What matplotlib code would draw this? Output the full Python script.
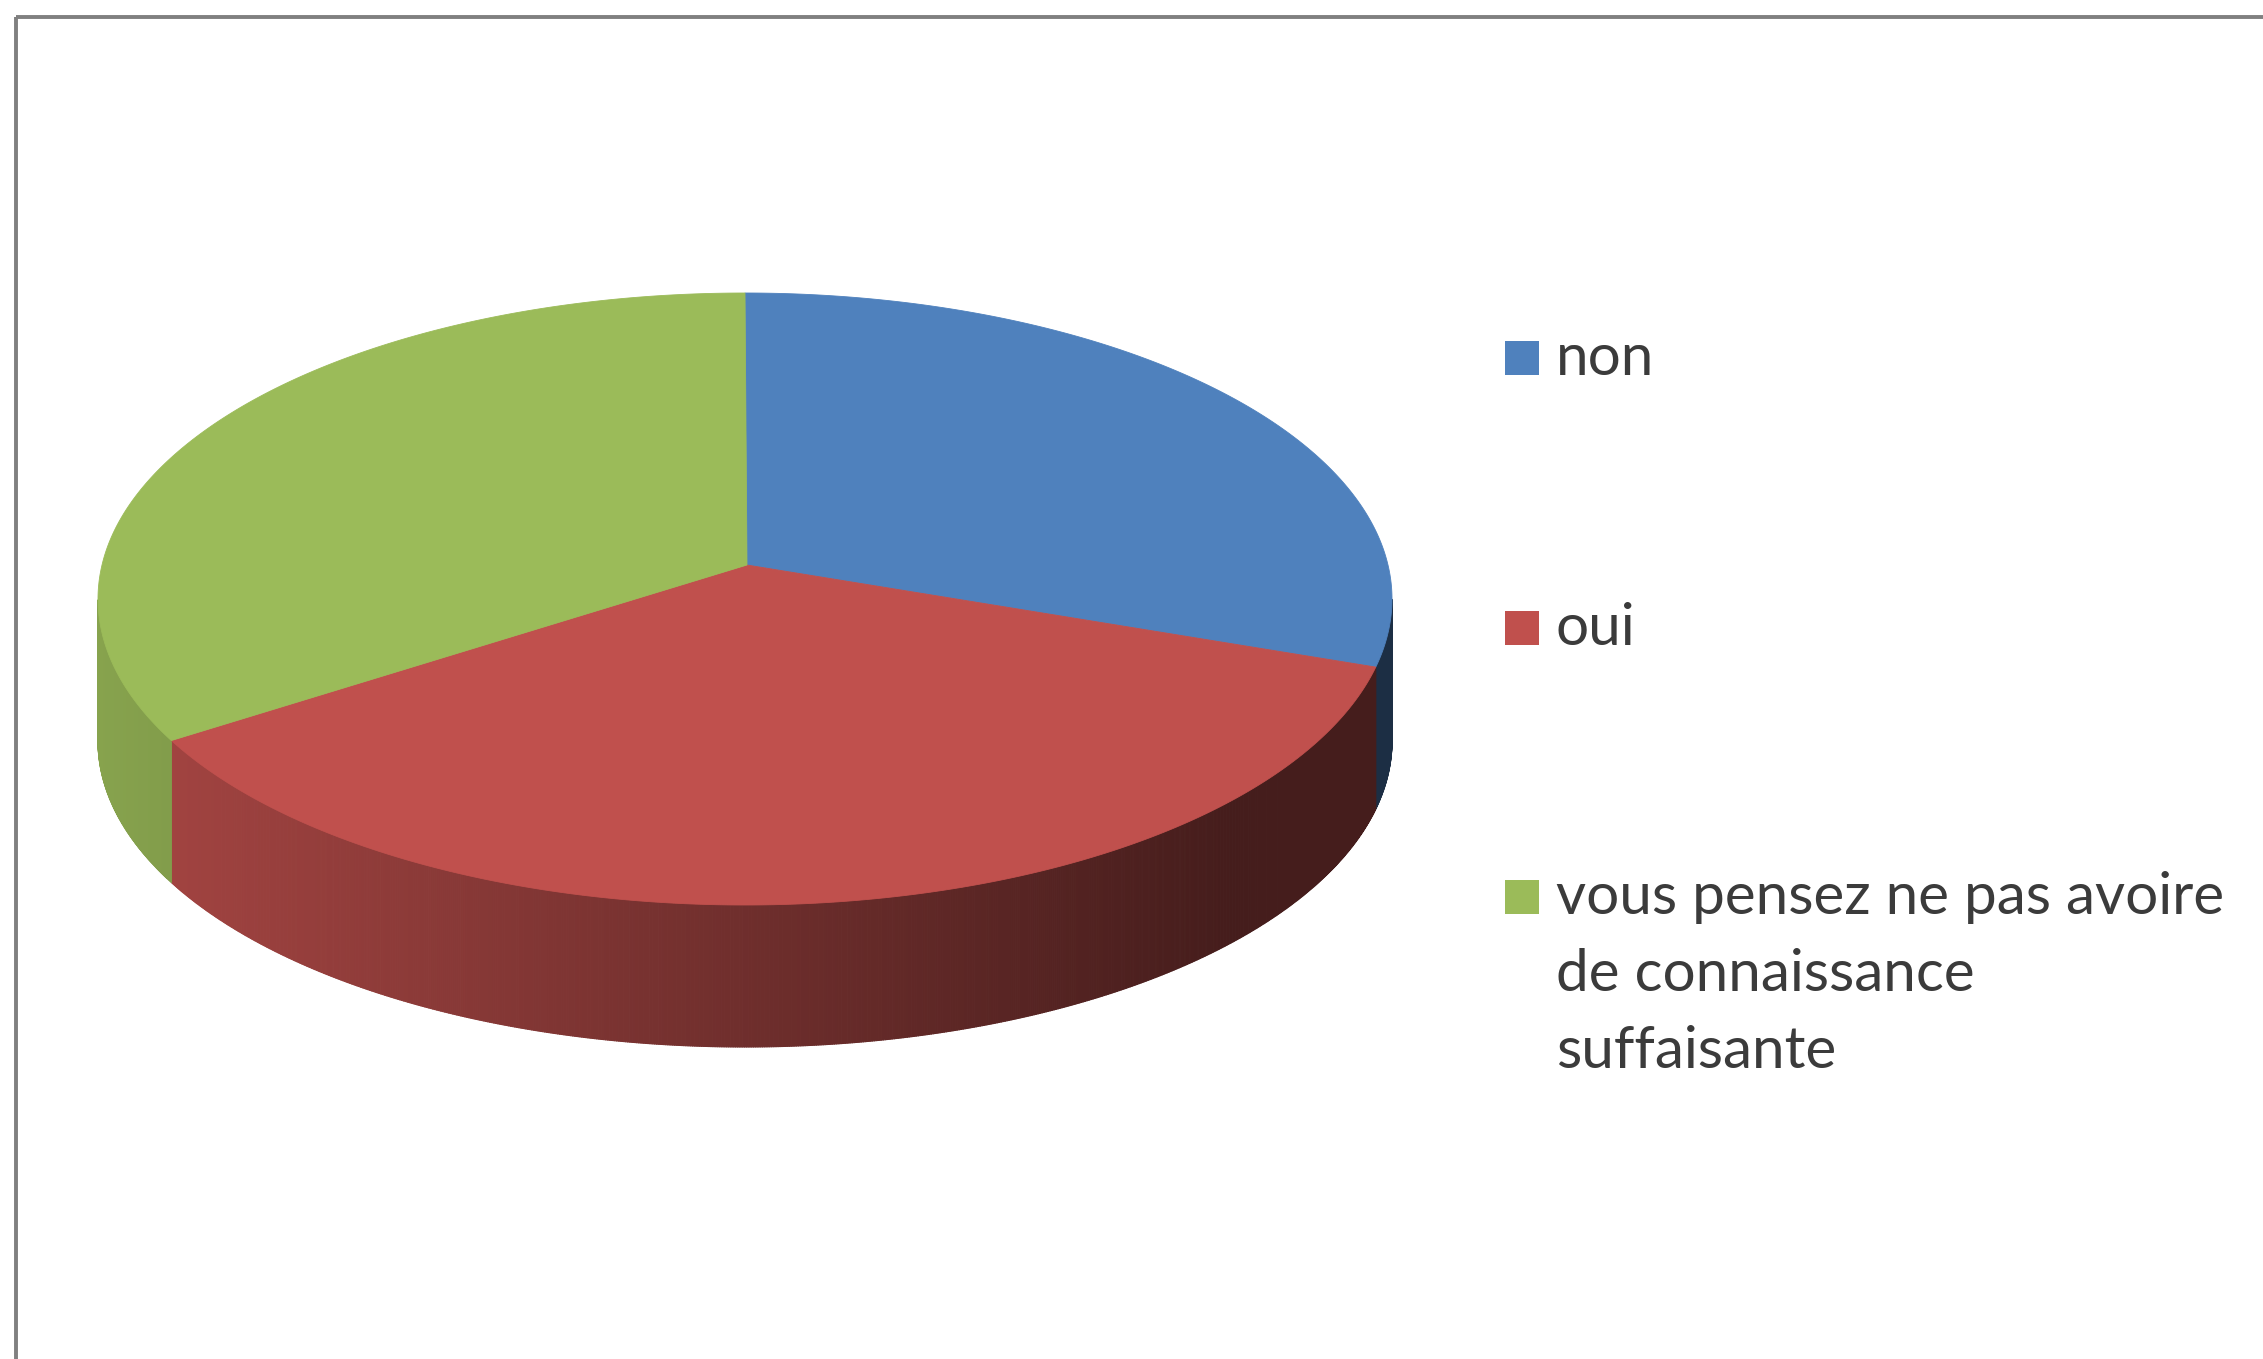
import numpy as np
import matplotlib.pyplot as plt
from matplotlib.patches import Polygon, Rectangle
from matplotlib.collections import PolyCollection
from matplotlib.colors import to_rgb

labels = ['non', 'oui', 'vous pensez ne pas avoire\nde connaissance\nsuffaisante']
values = [14, 19, 16]
colors = ['#4F81BD', '#C0504D', '#9BBB59']

W, H = 2263, 1359
fig = plt.figure(figsize=(W / 100, H / 100), dpi=100)
ax = fig.add_axes([0, 0, 1, 1])
ax.set_xlim(0, W)
ax.set_ylim(H, 0)
ax.axis('off')

# frame of the chart area (only top and left edges show)
ax.plot([16, W], [17, 17], color='#808080', lw=2.8, solid_capstyle='butt')
ax.plot([16, 16], [17, H], color='#808080', lw=2.8, solid_capstyle='butt')

# 3d pie layout, pixel units
cx, cy = 745, 599       # centre of the top ellipse
rx, ry = 647, 306
depth = 142
apex = (747, 565)       # where the slices meet (perspective)


def rim(t):
    r = np.radians(t)
    return cx + rx * np.cos(r), cy - ry * np.sin(r)


def shade(x):
    # side walls get darker towards the right
    return float(np.clip(0.87 - 0.00045 * (x - 100), 0.36, 1.0))


fracs = np.array(values) / sum(values)
ends = 90 - 360 * np.cumsum(fracs)
starts = np.r_[90, ends[:-1]]

# side walls (front half only)
quads, qcols = [], []
for s, e, c in zip(starts, ends, colors):
    base = np.array(to_rgb(c))
    t = np.linspace(s, e, int((s - e) / 0.2) + 2)
    front = np.sin(np.radians(t)) < 0.0001
    for t0, t1, f0, f1 in zip(t[:-1], t[1:], front[:-1], front[1:]):
        if not (f0 and f1):
            continue
        x0, y0 = rim(t0)
        x1, y1 = rim(t1)
        quads.append([(x0, y0), (x1, y1), (x1, y1 + depth), (x0, y0 + depth)])
        qcols.append(base * shade((x0 + x1) / 2))
ax.add_collection(PolyCollection(quads, facecolors=qcols, edgecolors=qcols, linewidths=0.8))

# top faces
for s, e, c in zip(starts, ends, colors):
    t = np.linspace(s, e, 400)
    xs, ys = rim(t)
    pts = np.column_stack([np.r_[apex[0], xs], np.r_[apex[1], ys]])
    ax.add_patch(Polygon(pts, closed=True, facecolor=c, edgecolor=c, lw=0.6))

# legend
leg_x, box = 1505, 34
text_x = 1556
baselines = [375, 645, 914]
line_step = 77
for lab, c, yb in zip(labels, colors, baselines):
    ax.add_patch(Rectangle((leg_x, yb - box), box, box, facecolor=c, edgecolor='none'))
    for i, line in enumerate(lab.split('\n')):
        ax.text(text_x, yb + i * line_step, line, fontsize=42, family='Lato',
                color='#3b3b3b', ha='left', va='baseline')

fig.savefig('out.png', dpi=100, facecolor='white')
